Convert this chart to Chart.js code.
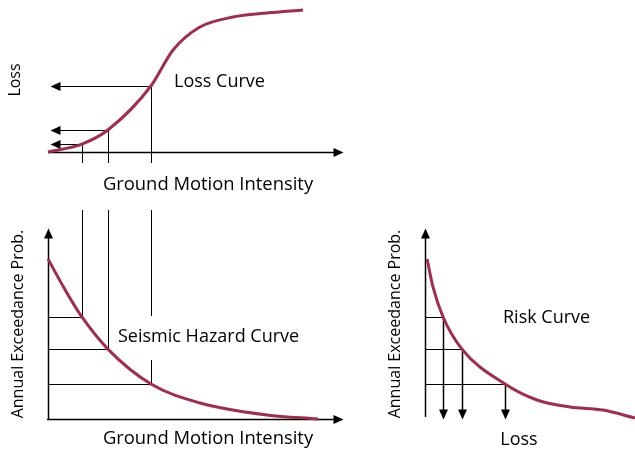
<!DOCTYPE html>
<html>
<head>
<meta charset="utf-8">
<script src="https://cdn.jsdelivr.net/npm/chart.js@4"></script>
<style>
  html, body { margin: 0; padding: 0; background: #fff; }
  #wrap { position: relative; width: 635px; height: 450px; }
  canvas { position: absolute; left: 0; top: 0; }
</style>
</head>
<body>
<div id="wrap">
  <canvas id="lossChart" width="635" height="450"></canvas>
  <canvas id="hazardChart" width="635" height="450"></canvas>
  <canvas id="riskChart" width="635" height="450"></canvas>
</div>
<script>
// loss (vulnerability) curve: ground motion intensity -> loss
const lossIntensity = [0, 1.15, 2.03, 3.49, 4.24, 5.15, 6.27, 7.42, 8.64];
const lossValues    = [0, 0.53, 1.47, 4.4, 6.8, 8.33, 9.0, 9.27, 9.47];

// seismic hazard curve: intensity -> annual exceedance probability
const hazardIntensity = [0, 0.58, 1.15, 2.03, 3.49, 5.15, 7.42, 9.15];
const hazardProb      = [0.842, 0.68, 0.537, 0.368, 0.184, 0.084, 0.021, 0];

// risk curve: loss -> annual exceedance probability
const riskLoss = [0.1, 0.38, 0.86, 1.76, 3.81, 5.33, 6.9, 8.48, 10];
const riskProb = [0.842, 0.695, 0.537, 0.368, 0.184, 0.1, 0.063, 0.047, 0.005];

// the three worked examples that tie the curves together
const guideIntensity = [1.15, 2.03, 3.49];
const guideLoss      = [0.53, 1.47, 4.4];
const guideProb      = [0.537, 0.368, 0.184];
const guideRiskLoss  = [0.86, 1.76, 3.81];

const CURVE = '#a02d4b';
const FAMILY = '"Open Sans", sans-serif';

function pts(xs, ys) {
  return xs.map((x, i) => ({ x: x, y: ys[i] }));
}

// crisp 1px lines: snap to half pixels
function snap(v) { return Math.round(v) + 0.5; }

function vline(ctx, x, y1, y2, w) {
  ctx.save();
  ctx.strokeStyle = '#000';
  ctx.lineWidth = w || 1;
  ctx.beginPath();
  ctx.moveTo(snap(x), y1);
  ctx.lineTo(snap(x), y2);
  ctx.stroke();
  ctx.restore();
}

function hline(ctx, x1, x2, y, w) {
  ctx.save();
  ctx.strokeStyle = '#000';
  ctx.lineWidth = w || 1;
  ctx.beginPath();
  ctx.moveTo(x1, snap(y));
  ctx.lineTo(x2, snap(y));
  ctx.stroke();
  ctx.restore();
}

// filled arrow head with its tip at (x, y)
function head(ctx, x, y, dir) {
  const L = 10, H = 4.5;
  x = snap(x); y = snap(y);
  ctx.save();
  ctx.fillStyle = '#000';
  ctx.beginPath();
  ctx.moveTo(x, y);
  if (dir === 'right') { ctx.lineTo(x - L, y - H); ctx.lineTo(x - L, y + H); }
  if (dir === 'left')  { ctx.lineTo(x + L, y - H); ctx.lineTo(x + L, y + H); }
  if (dir === 'up')    { ctx.lineTo(x - H, y + L); ctx.lineTo(x + H, y + L); }
  if (dir === 'down')  { ctx.lineTo(x - H, y - L); ctx.lineTo(x + H, y - L); }
  ctx.closePath();
  ctx.fill();
  ctx.restore();
}

function text(ctx, str, x, y, size, align, rotate) {
  ctx.save();
  ctx.font = size + 'px ' + FAMILY;
  ctx.fillStyle = '#000';
  ctx.textAlign = align || 'left';
  ctx.textBaseline = 'alphabetic';
  ctx.translate(x, y);
  if (rotate) ctx.rotate(-Math.PI / 2);
  ctx.fillText(str, 0, 0);
  ctx.restore();
}

function makeChart(id, data, xMax, yMax, padding, draw) {
  return new Chart(document.getElementById(id), {
    type: 'line',
    data: {
      datasets: [{
        data: data,
        borderColor: CURVE,
        borderWidth: 3,
        pointRadius: 0,
        cubicInterpolationMode: 'monotone',
        fill: false,
        clip: false
      }]
    },
    options: {
      responsive: false,
      animation: false,
      events: [],
      layout: { padding: padding },
      plugins: { legend: { display: false }, tooltip: { enabled: false } },
      scales: {
        x: { type: 'linear', min: 0, max: xMax, display: false },
        y: { type: 'linear', min: 0, max: yMax, display: false }
      }
    },
    plugins: [{ id: 'decor', beforeDatasetsDraw: draw }]
  });
}

// top: loss curve
makeChart('lossChart', pts(lossIntensity, lossValues), 10, 10,
  { left: 48, right: 292, top: 2, bottom: 298 },
  function (chart) {
    const ctx = chart.ctx, a = chart.chartArea;
    const sx = chart.scales.x, sy = chart.scales.y;
    const y0 = sy.getPixelForValue(0);
    hline(ctx, a.left, a.right - 8, y0, 1.5);
    head(ctx, a.right, y0, 'right');
    guideIntensity.forEach((v, i) => {
      const px = sx.getPixelForValue(v), py = sy.getPixelForValue(guideLoss[i]);
      vline(ctx, px, py, y0 + 11, 1);
      hline(ctx, px, a.left + 10, py, 1);
      head(ctx, a.left + 2, py, 'left');
    });
    text(ctx, 'Loss Curve', 174, 87, 18);
    text(ctx, 'Ground Motion Intensity', 208, 190, 18.4, 'center');
    text(ctx, 'Loss', 20, 80, 16, 'center', true);
  });

// bottom left: seismic hazard curve
makeChart('hazardChart', pts(hazardIntensity, hazardProb), 10, 1,
  { left: 48, right: 292, top: 229, bottom: 31 },
  function (chart) {
    const ctx = chart.ctx, a = chart.chartArea;
    const sx = chart.scales.x, sy = chart.scales.y;
    const x0 = sx.getPixelForValue(0), y0 = sy.getPixelForValue(0);
    vline(ctx, x0, y0, a.top + 8, 1.5);
    head(ctx, x0, a.top - 1, 'up');
    hline(ctx, x0 - 1, a.right - 8, y0, 1.5);
    head(ctx, a.right, y0, 'right');
    const label = { x: 118, y: 342, w: 180 };
    guideIntensity.forEach((v, i) => {
      const px = sx.getPixelForValue(v), py = sy.getPixelForValue(guideProb[i]);
      hline(ctx, x0, px, py, 1);
      if (px > label.x && px < label.x + label.w) {
        vline(ctx, px, a.top - 19, label.y - 26, 1);
        vline(ctx, px, label.y + 18, py, 1);
      } else {
        vline(ctx, px, a.top - 19, py, 1);
      }
    });
    text(ctx, 'Seismic Hazard Curve', label.x, label.y, 18);
    text(ctx, 'Ground Motion Intensity', 208, 444, 18.4, 'center');
    text(ctx, 'Annual Exceedance Prob.', 23, 324, 16, 'center', true);
  });

// bottom right: risk curve
makeChart('riskChart', pts(riskLoss, riskProb), 10, 1,
  { left: 425, right: 0, top: 229, bottom: 31 },
  function (chart) {
    const ctx = chart.ctx, a = chart.chartArea;
    const sx = chart.scales.x, sy = chart.scales.y;
    const x0 = sx.getPixelForValue(0), y0 = sy.getPixelForValue(0);
    vline(ctx, x0, y0 - 2, a.top + 8, 1.5);
    head(ctx, x0, a.top - 1, 'up');
    guideRiskLoss.forEach((v, i) => {
      const px = sx.getPixelForValue(v), py = sy.getPixelForValue(guideProb[i]);
      hline(ctx, x0, px, py, 1);
      vline(ctx, px, py, y0 - 8, 1.5);
      head(ctx, px, y0, 'down');
    });
    text(ctx, 'Risk Curve', 503, 323, 18);
    text(ctx, 'Loss', 519, 445, 18, 'center');
    text(ctx, 'Annual Exceedance Prob.', 400, 324, 16, 'center', true);
  });
</script>
</body>
</html>
